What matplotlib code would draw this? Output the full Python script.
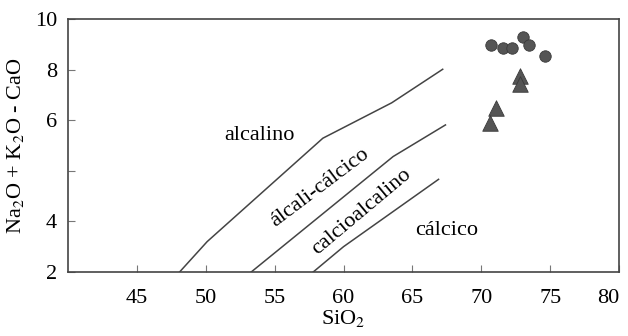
import numpy as np
import matplotlib.pyplot as plt

plt.rcParams['font.family'] = ['Liberation Serif', 'DejaVu Serif']
plt.rcParams['mathtext.fontset'] = 'stix'

# boundary lines (SiO2, y in axis units)
alc_x = [48.1, 50.1, 58.5, 63.5, 67.2]
alc_y = [2.0, 2.96, 6.23, 7.35, 8.41]
alcc_x = [53.3, 63.6, 67.4]
alcc_y = [2.0, 5.65, 6.65]
calc_x = [57.8, 60.0, 66.9]
calc_y = [2.0, 2.8, 4.93]

# samples
circ_x = [70.7, 71.6, 72.2, 73.05, 73.5, 74.6]
circ_y = [9.18, 9.09, 9.09, 9.44, 9.18, 8.83]
tri_x = [72.8, 72.8, 71.1, 70.6]
tri_y = [8.2, 7.96, 7.18, 6.70]

x_ticks = [45, 50, 55, 60, 65, 70, 75, 80]
y_tick_labels = ['2', '4', '', '6', '8', '10']

line_col = '#444444'
mark_col = '#555555'

fig = plt.figure(figsize=(6.28, 3.36), dpi=100)
ax = fig.add_axes([0.1083, 0.1905, 0.8774, 0.753])

ax.plot(alc_x, alc_y, color=line_col, lw=1.1)
ax.plot(alcc_x, alcc_y, color=line_col, lw=1.1)
ax.plot(calc_x, calc_y, color=line_col, lw=1.1)

ax.scatter(circ_x, circ_y, s=68, marker='o', color=mark_col,
           edgecolors='#3a3a3a', linewidths=0.6, zorder=3)
ax.scatter(tri_x, tri_y, s=125, marker='^', color=mark_col,
           edgecolors='#3a3a3a', linewidths=0.6, zorder=3)

fs = 16
ax.text(53.9, 6.33, 'alcalino', fontsize=fs, ha='center', va='center')
ax.text(58.3, 4.66, 'álcali-cálcico', fontsize=fs, ha='center', va='center',
        rotation=37, rotation_mode='anchor')
ax.text(61.3, 3.91, 'calcioalcalino', fontsize=fs, ha='center', va='center',
        rotation=40, rotation_mode='anchor')
ax.text(67.5, 3.3, 'cálcico', fontsize=fs, ha='center', va='center')

ax.set_xlim(40, 80)
ax.set_ylim(2, 10)
ax.set_xticks(x_ticks)
ax.set_yticks(np.linspace(2, 10, 6))
ax.set_yticklabels(y_tick_labels)
ax.get_xticklabels()[-1].set_horizontalalignment('right')

ax.tick_params(direction='in', length=5, width=0.8, color='#777777',
               labelsize=fs)
ax.tick_params(axis='x', pad=12)
ax.tick_params(axis='y', pad=8)
for sp in ax.spines.values():
    sp.set_color(line_col)
    sp.set_linewidth(1.2)

ax.set_xlabel('SiO$_2$', fontsize=fs, labelpad=0)
ax.set_ylabel('Na$_2$O + K$_2$O - CaO', fontsize=fs, labelpad=6)

fig.savefig('out.png', dpi=100)
